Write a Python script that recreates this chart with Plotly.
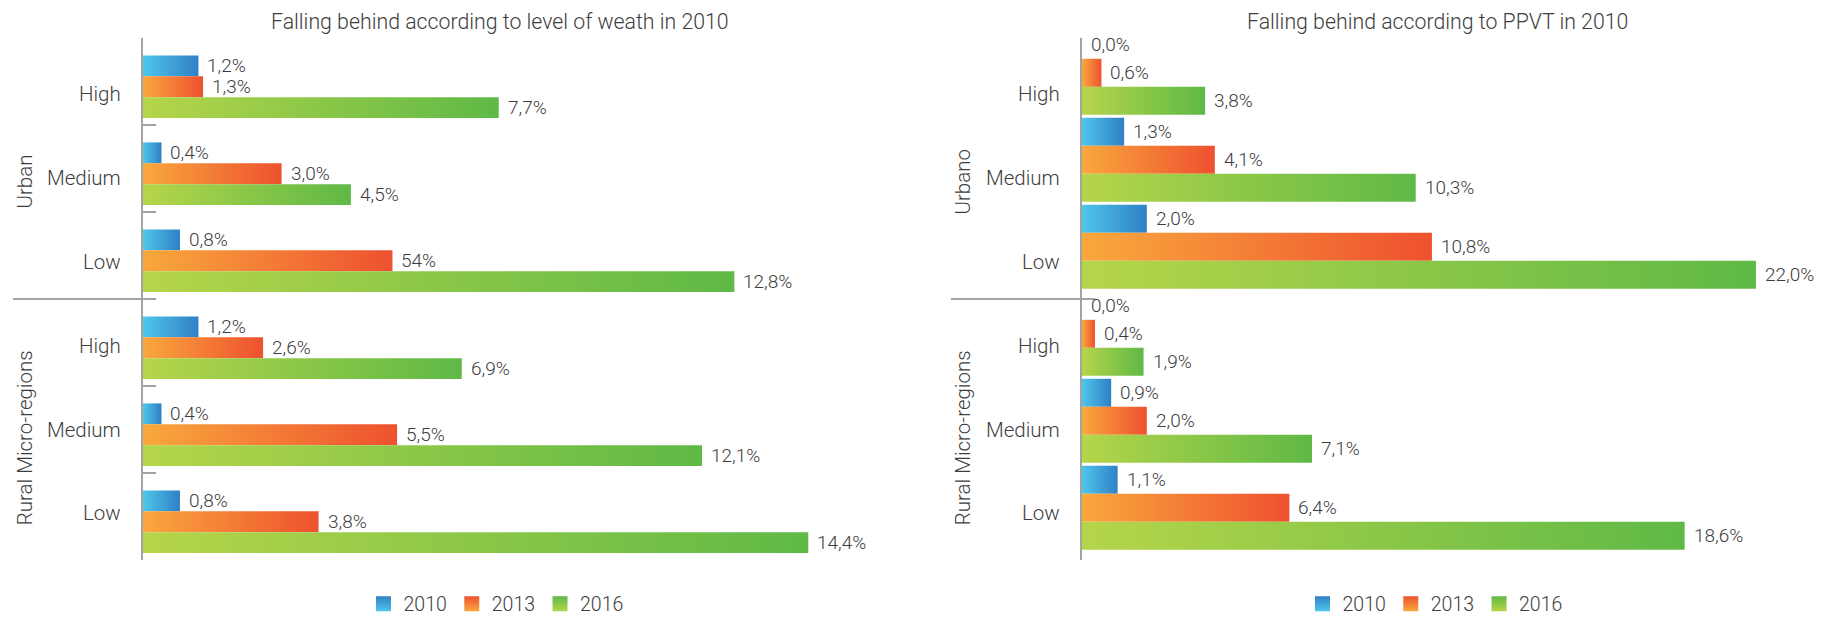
import plotly.graph_objects as go

years = ["2010", "2013", "2016"]
levels = ["High", "Medium", "Low"]
groups_left = ["Urban", "Rural Micro-regions"]
groups_right = ["Urbano", "Rural Micro-regions"]

title_left = "Falling behind according to level of weath in 2010"
title_right = "Falling behind according to PPVT in 2010"

# order: Urban High, Medium, Low, Rural High, Medium, Low
wealth_2010 = [1.2, 0.4, 0.8, 1.2, 0.4, 0.8]
wealth_2013 = [1.3, 3.0, 5.4, 2.6, 5.5, 3.8]
wealth_2016 = [7.7, 4.5, 12.8, 6.9, 12.1, 14.4]
wealth_2013_text = ["1,3%", "3,0%", "54%", "2,6%", "5,5%", "3,8%"]  # as printed

ppvt_2010 = [0.0, 1.3, 2.0, 0.0, 0.9, 1.1]
ppvt_2013 = [0.6, 4.1, 10.8, 0.4, 2.0, 6.4]
ppvt_2016 = [3.8, 10.3, 20.8, 1.9, 7.1, 18.6]
ppvt_2016_text = ["3,8%", "10,3%", "22,0%", "1,9%", "7,1%", "18,6%"]  # as printed

# page body has an 8px margin, the figure starts at (8, 8) in the window
PAGE_W, PAGE_H = 1826, 617
OFF = 8
W, H = PAGE_W - OFF, PAGE_H - OFF
FONT = "Roboto"
TXT = "#3d3d3d"
AXIS = "#a3a3a3"

# light -> dark, left to right
grads = {
    "2010": ("#4fc6ea", "#2f80c6"),
    "2013": ("#f9a83d", "#ee512f"),
    "2016": ("#b6d54a", "#5fb946"),
}


def fmt(v):
    return ("%.1f%%" % v).replace(".", ",")


def px(x):
    # window pixel -> paper x
    return (x - OFF) / W


def py(y):
    # window pixel -> paper y
    return 1 - (y - OFF) / H


fig = go.Figure()

panels = [
    dict(xa="x", ya="y", legend="legend",
         series=[wealth_2010, wealth_2013, wealth_2016],
         texts=[[fmt(v) for v in wealth_2010], wealth_2013_text, [fmt(v) for v in wealth_2016]],
         x0=143, ppu=46.2, xend=880, bar_h=0.24, centre=0.56,
         groups=groups_left, lab_x=123, grp_x=25, sep=(13, 156), title=title_left, tx=500,
         leg_x=496),
    dict(xa="x2", ya="y2", legend="legend2",
         series=[ppvt_2010, ppvt_2013, ppvt_2016],
         texts=[[fmt(v) for v in ppvt_2010], [fmt(v) for v in ppvt_2013], ppvt_2016_text],
         x0=1082, ppu=32.4, xend=1812, bar_h=0.322, centre=0.40,
         groups=groups_right, lab_x=1062, grp_x=963, sep=(951, 1094), title=title_right, tx=1437,
         leg_x=1435),
]

annotations = []
shapes = []

for p in panels:
    n = len(p["series"])
    for k, (yr, vals, txts) in enumerate(zip(years, p["series"], p["texts"])):
        light, dark = grads[yr]
        for i, (v, t) in enumerate(zip(vals, txts)):
            c = i + p["centre"]
            y0 = c - n * p["bar_h"] / 2 + k * p["bar_h"]
            y1 = y0 + p["bar_h"]
            if v > 0:
                fig.add_trace(go.Scatter(
                    x=[0, v, v, 0, 0], y=[y0, y0, y1, y1, y0],
                    xaxis=p["xa"], yaxis=p["ya"],
                    mode="lines", line=dict(width=0), fill="toself",
                    fillgradient=dict(type="horizontal",
                                      colorscale=[[0, light], [1, dark]]),
                    hoverinfo="skip", showlegend=False,
                ))
            annotations.append(dict(
                x=v, y=(y0 + y1) / 2, xref=p["xa"], yref=p["ya"],
                text=t, showarrow=False, xanchor="left", yanchor="middle",
                xshift=7, font=dict(size=19, color=TXT, weight=300),
            ))
        # legend entry: square with vertical gradient
        fig.add_trace(go.Scatter(
            x=[None], y=[None], xaxis=p["xa"], yaxis=p["ya"], name=yr,
            mode="markers",
            marker=dict(symbol="square", size=15, color=dark,
                        gradient=dict(type="vertical", color=light),
                        line=dict(width=0)),
            legend=p["legend"], showlegend=True,
        ))

    # category labels
    for i in range(6):
        annotations.append(dict(
            x=px(p["lab_x"]), xref="paper", y=0.64 + 0.965 * i, yref=p["ya"],
            text=levels[i % 3], showarrow=False, xanchor="right", yanchor="middle",
            font=dict(size=20.5, color=TXT, weight=300),
        ))
    for g, gname in enumerate(p["groups"]):
        annotations.append(dict(
            x=px(p["grp_x"]), xref="paper", y=1.65 + 2.95 * g, yref=p["ya"],
            text=gname, showarrow=False, textangle=-90, xanchor="center", yanchor="middle",
            font=dict(size=20.5, color=TXT, weight=300),
        ))
    annotations.append(dict(
        x=px(p["tx"]), xref="paper", y=py(22), yref="paper", text=p["title"],
        showarrow=False, xanchor="center", yanchor="middle",
        font=dict(size=21.3, color=TXT, weight=300),
    ))
    shapes.append(dict(
        type="line", xref="paper", yref=p["ya"], x0=px(p["sep"][0]), x1=px(p["sep"][1]),
        y0=3, y1=3, line=dict(color=AXIS, width=2),
    ))

xcommon = dict(visible=False, showgrid=False, zeroline=False)
ycommon = dict(range=[6, 0], domain=[py(560), py(38)], showgrid=False, zeroline=False,
               showticklabels=False, showline=True, linecolor=AXIS, linewidth=2,
               ticks="inside", ticklen=13, tickwidth=2, tickcolor=AXIS,
               tickvals=[0, 1, 2, 3, 4, 5, 6], layer="below traces")

legcommon = dict(orientation="h", xanchor="center", y=py(604), yanchor="middle",
                 font=dict(size=19.5, color=TXT, weight=300), bgcolor="rgba(0,0,0,0)",
                 itemwidth=30, tracegroupgap=0)

lp, rp = panels
fig.update_layout(
    width=W, height=H,
    margin=dict(l=0, r=0, t=0, b=0, autoexpand=False),
    paper_bgcolor="white", plot_bgcolor="white",
    font=dict(family=FONT, color=TXT),
    xaxis=dict(xcommon, domain=[px(lp["x0"]), px(lp["xend"])],
               range=[0, (lp["xend"] - lp["x0"]) / lp["ppu"]]),
    xaxis2=dict(xcommon, domain=[px(rp["x0"]), px(rp["xend"])],
                range=[0, (rp["xend"] - rp["x0"]) / rp["ppu"]]),
    yaxis=dict(ycommon, anchor="x"),
    yaxis2=dict(ycommon, anchor="x2"),
    legend=dict(legcommon, x=px(lp["leg_x"])),
    legend2=dict(legcommon, x=px(rp["leg_x"])),
    annotations=annotations,
    shapes=shapes,
    hovermode=False,
)

fig.write_html("out.html")
